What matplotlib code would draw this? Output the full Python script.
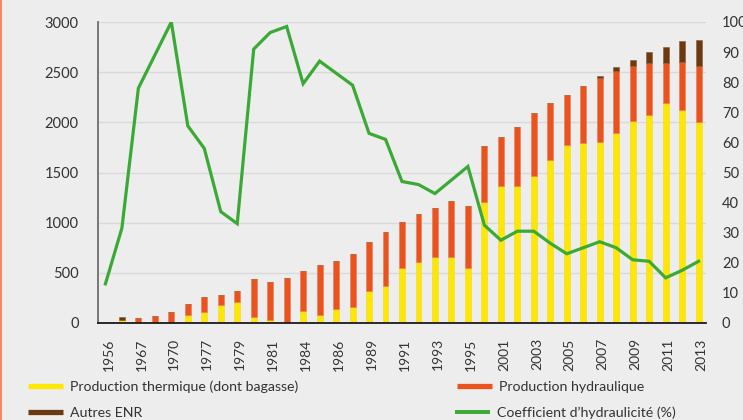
import matplotlib
matplotlib.use("Agg")
import matplotlib.pyplot as plt
from matplotlib.lines import Line2D
from matplotlib.patches import Rectangle
import matplotlib.transforms as mtransforms
import numpy as np

# Years (only every other one is labelled on the axis)
tick_labels = ["1956", "", "1967", "", "1970", "", "1977", "", "1979", "", "1981", "",
               "1984", "", "1986", "", "1989", "", "1991", "", "1993", "", "1995", "",
               "2001", "", "2003", "", "2005", "", "2007", "", "2009", "", "2011", "", "2013"]

# Electricity production (GWh)
thermique = [0, 30, 0, 0, 0, 78, 105, 180, 210, 55, 30, 0, 120, 80, 135, 160, 320, 370,
             545, 605, 655, 660, 550, 1210, 1370, 1365, 1465, 1625, 1775, 1790, 1805,
             1895, 2015, 2070, 2195, 2120, 2005]
hydraulique = [0, 0, 45, 70, 105, 110, 150, 100, 110, 380, 375, 450, 400, 500, 485, 530,
               485, 540, 465, 485, 490, 555, 615, 555, 480, 585, 625, 570, 495, 570, 640,
               615, 545, 520, 395, 480, 555]
autres_enr = [0, 30, 0, 0, 0, 0, 0, 0, 0, 0, 0, 0, 0, 0, 0, 0, 0, 0, 0, 0, 0, 0, 0, 0,
              0, 0, 0, 0, 0, 0, 20, 45, 65, 110, 160, 215, 260]

# Hydraulicity coefficient (%)
coef_hydraulicite = [13, 31.5, 78, 89, 100, 65.5, 58, 37, 33, 91, 96.5, 98.5, 79.5, 87,
                     83, 79, 63, 61, 47, 46, 43, 47.5, 52, 32.5, 27.5, 30.5, 30.5, 26.5,
                     23, 25, 27, 25, 21, 20.5, 15, 17.5, 20.5]

legend_labels = ["Production thermique (dont bagasse)", "Production hydraulique",
                 "Autres ENR", "Coefficient d\u2019hydraulicit\u00e9 (%)"]

YELLOW = "#FFE800"
RED = "#EA521E"
BROWN = "#6B3A12"
GREEN = "#3BA935"
BG = "#EDEDED"

W, H = 743, 420
fig = plt.figure(figsize=(W / 100, H / 100), dpi=100, facecolor=BG)
ax = fig.add_axes([98 / W, 1 - 323 / H, 608 / W, 301 / H], facecolor=BG)

x = np.arange(len(tick_labels))
th = np.array(thermique, dtype=float)
hy = np.array(hydraulique, dtype=float)
au = np.array(autres_enr, dtype=float)

bw = 0.36
ax.bar(x, th, width=bw, color=YELLOW, edgecolor="#F6D23A", linewidth=0.4, zorder=2)
ax.bar(x, hy, width=bw, bottom=th, color=RED, edgecolor="#EE7A50", linewidth=0.4, zorder=2)
ax.bar(x, au, width=bw, bottom=th + hy, color=BROWN, edgecolor="#8A5A30", linewidth=0.4, zorder=2)

ax.set_xlim(-0.45, len(x) - 0.55)
ax.set_ylim(0, 3000)
ax.set_yticks(np.arange(0, 3001, 500))
ax.yaxis.grid(True, color="#D9D9D9", linewidth=1.0, zorder=0)
ax.set_axisbelow(True)

tick_font = dict(family=["Lato", "DejaVu Sans"], size=10.5, color="#333333")
ax.set_yticklabels([str(v) for v in range(0, 3001, 500)], **tick_font)
ax.tick_params(axis="y", length=0, pad=14)
ax.set_xticks(x)
ax.set_xticklabels(tick_labels, rotation=90, family=["Lato", "DejaVu Sans"],
                   size=10, color="#333333", va="top", ha="center")
ax.tick_params(axis="x", length=0, pad=11)
offset = mtransforms.ScaledTranslation(3 / 100, 0, fig.dpi_scale_trans)
for lab in ax.get_xticklabels():
    lab.set_transform(lab.get_transform() + offset)

for s in ["top", "right"]:
    ax.spines[s].set_visible(False)
ax.spines["left"].set_color("#6E6E6E")
ax.spines["left"].set_linewidth(1.3)
ax.spines["bottom"].set_color("#1A1A1A")
ax.spines["bottom"].set_linewidth(1.3)
ax.spines["bottom"].set_zorder(4)

ax2 = ax.twinx()
ax2.set_ylim(0, 100)
ax2.set_yticks(np.arange(0, 101, 10))
ax2.set_yticklabels([str(v) for v in range(0, 101, 10)], **tick_font)
ax2.tick_params(axis="y", length=0, pad=11.5)
for s in ax2.spines.values():
    s.set_visible(False)
ax2.plot(x, coef_hydraulicite, color=GREEN, linewidth=2.3, solid_joinstyle="miter", zorder=5)

# Legend: two columns of two entries below the chart
leg_font = dict(family=["Lato", "DejaVu Sans"], size=10.2)
handles = [Line2D([], [], color=YELLOW, lw=3.8, solid_capstyle="butt"),
           Line2D([], [], color=RED, lw=3.8, solid_capstyle="butt"),
           Line2D([], [], color=BROWN, lw=3.8, solid_capstyle="butt"),
           Line2D([], [], color=GREEN, lw=2.8, solid_capstyle="butt")]
anchors = [(28, 386.7), (457, 386.7), (28, 413), (455, 413)]
for h, lab, (px, py) in zip(handles, legend_labels, anchors):
    leg = fig.legend([h], [lab], loc="center left",
                     bbox_to_anchor=(px / W, 1 - py / H), frameon=False,
                     handlelength=2.5, handletextpad=0.45, borderaxespad=0,
                     borderpad=0, prop=leg_font, labelcolor="#333333")

# thin coloured rule along the left edge
fig.add_artist(Rectangle((0, 0), 1.5 / W, 1, transform=fig.transFigure,
                         color="#F4866A", lw=0))

fig.savefig("out.png", dpi=100, facecolor=BG)
